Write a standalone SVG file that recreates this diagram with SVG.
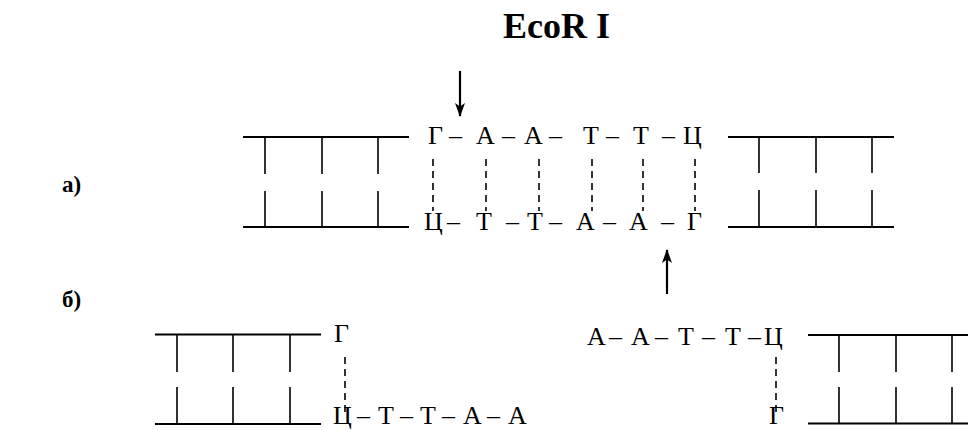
<svg xmlns="http://www.w3.org/2000/svg" width="968" height="430" viewBox="0 0 968 430">
  <defs>
    <style>
      .strand { stroke: #000; stroke-width: 2.2; fill: none; }
      .rung { stroke: #000; stroke-width: 1.6; fill: none; }
      .hbond { stroke: #000; stroke-width: 1.6; stroke-dasharray: 7 5; fill: none; }
      .cut { stroke: #000; stroke-width: 2.2; fill: none; }
      .base { font-family: "Liberation Serif", "Times New Roman", serif; font-size: 26px; fill: #000; }
      .title { font-family: "Liberation Serif", "Times New Roman", serif; font-size: 36px; font-weight: bold; fill: #000; }
      .label { font-family: "Liberation Serif", "Times New Roman", serif; font-size: 23px; font-weight: bold; fill: #000; }
    </style>
    <marker id="head" viewBox="0 0 14 10" refX="13" refY="5" markerWidth="14" markerHeight="10" markerUnits="userSpaceOnUse" orient="auto">
      <path d="M0,0 L14,5 L0,10 L3.5,5 Z" fill="#000"/>
    </marker>
  </defs>

  <g id="title">
    <text class="title" x="503" y="38">EcoR I</text>
  </g>

  <g id="label-a"><text class="label" x="62" y="192">а)</text></g>
  <g id="label-b"><text class="label" x="62" y="307">б)</text></g>

  <!-- a) intact DNA with the recognition site -->
  <g id="duplex-a-left">
    <line class="strand" x1="243" y1="137" x2="409" y2="137"/>
    <line class="strand" x1="243" y1="227" x2="409" y2="227"/>
    <path class="rung" d="M265,137V174M322,137V174M378,137V174M265,191V227M322,191V227M378,191V227"/>
  </g>
  <g id="duplex-a-right">
    <line class="strand" x1="728" y1="137" x2="894" y2="137"/>
    <line class="strand" x1="728" y1="227" x2="894" y2="227"/>
    <path class="rung" d="M759,137V173M816,137V173M872,137V173M759,190V227M816,190V227M872,190V227"/>
  </g>
  <g id="site-a-top">
    <text class="base" y="144"><tspan x="428">Г</tspan><tspan x="449">–</tspan><tspan x="476">А</tspan><tspan x="502">–</tspan><tspan x="524">А</tspan><tspan x="549">–</tspan><tspan x="583">Т</tspan><tspan x="606">–</tspan><tspan x="633">Т</tspan><tspan x="662">–</tspan><tspan x="683">Ц</tspan></text>
  </g>
  <g id="site-a-bottom">
    <text class="base" y="230"><tspan x="424">Ц</tspan><tspan x="447">–</tspan><tspan x="476">Т</tspan><tspan x="506">–</tspan><tspan x="527">Т</tspan><tspan x="549">–</tspan><tspan x="576">А</tspan><tspan x="603">–</tspan><tspan x="629">А</tspan><tspan x="661">–</tspan><tspan x="687">Г</tspan></text>
  </g>

  <!-- b) the two fragments with sticky ends -->
  <g id="duplex-b-left">
    <line class="strand" x1="155" y1="334.5" x2="321" y2="334.5"/>
    <line class="strand" x1="155" y1="424" x2="321" y2="424"/>
    <path class="rung" d="M177,334V372M233,334V372M290,334V372M177,387V424M233,387V424M290,387V424"/>
  </g>
  <g id="duplex-b-right">
    <line class="strand" x1="808" y1="335" x2="968" y2="335"/>
    <line class="strand" x1="808" y1="423.5" x2="968" y2="423.5"/>
    <path class="rung" d="M839,335V372M896,335V372M952,335V372M839,387V423M896,387V423M952,387V423"/>
  </g>
  <g id="end-b-left-top">
    <text class="base" x="334" y="342">Г</text>
  </g>
  <g id="end-b-left-bottom">
    <text class="base" y="424"><tspan x="333">Ц</tspan><tspan x="357">–</tspan><tspan x="378">Т</tspan><tspan x="400">–</tspan><tspan x="420">Т</tspan><tspan x="442">–</tspan><tspan x="463">А</tspan><tspan x="487">–</tspan><tspan x="508">А</tspan></text>
  </g>
  <g id="end-b-right-top">
    <text class="base" y="345"><tspan x="587">А</tspan><tspan x="609">–</tspan><tspan x="631">А</tspan><tspan x="655">–</tspan><tspan x="678">Т</tspan><tspan x="702">–</tspan><tspan x="725">Т</tspan><tspan x="748">–</tspan><tspan x="764">Ц</tspan></text>
  </g>
  <g id="end-b-right-bottom">
    <text class="base" x="769" y="424">Г</text>
  </g>

  <g id="connectors">
    <!-- hydrogen bonds between paired bases -->
    <path class="hbond" d="M433,159V211M486,159V211M539,159V211M592,159V211M643,159V211M695,159V211"/>
    <path class="hbond" d="M345,357V412M776,357V412"/>
    <!-- cleavage points -->
    <line class="cut" x1="460" y1="71" x2="460" y2="116" marker-end="url(#head)"/>
    <line class="cut" x1="667" y1="294" x2="667" y2="250" marker-end="url(#head)"/>
  </g>
</svg>
